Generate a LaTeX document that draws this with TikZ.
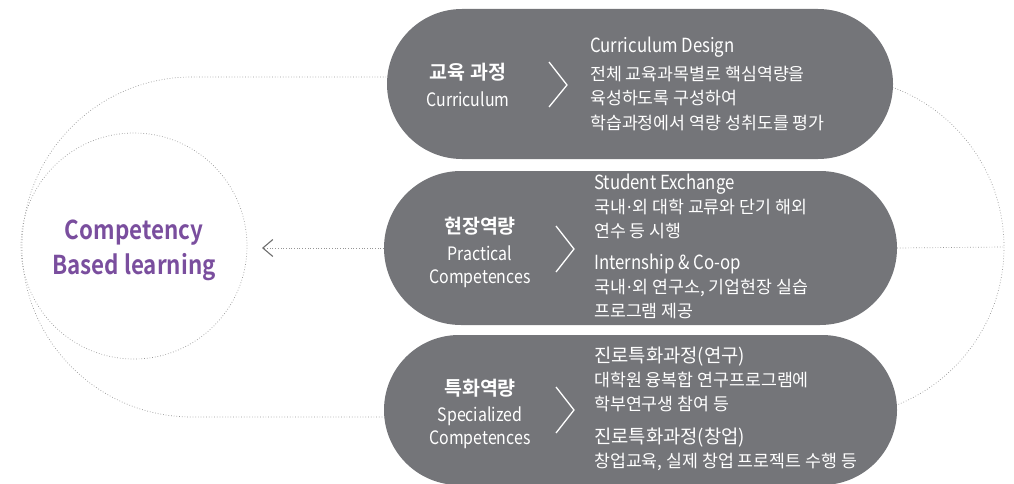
\documentclass[tikz,border=0pt]{standalone}
\usepackage{fontspec}
\setmainfont{Noto Sans CJK KR}[BoldFont={Noto Sans CJK KR Bold}]
\newfontfamily\cond{Noto Sans CJK KR}[FakeStretch=0.86, BoldFont={Noto Sans CJK KR Bold}]
\newfontfamily\dvsans{DejaVu Sans}
\usetikzlibrary{shapes.misc,arrows.meta}
\definecolor{pillgray}{RGB}{116,117,121}
\definecolor{cbpurple}{RGB}{122,78,158}
\definecolor{dotgray}{RGB}{150,150,150}
\definecolor{tipgray}{RGB}{110,110,110}
\newcommand{\lat}[1]{{\cond\fontsize{19.5}{24}\selectfont #1}}
\newcommand{\kh}[1]{{\fontsize{18.8}{24}\selectfont #1}}
\newcommand{\mdot}{{\dvsans\kern0.5pt·\kern0.5pt}}
\tikzset{
  dotline/.style={draw=dotgray, dotted, line width=0.7pt},
  pill/.style={rounded rectangle, fill=pillgray, inner sep=0pt},
  head/.style={text=white, font=\bfseries\fontsize{19.5}{22}\selectfont, inner sep=0pt},
  sub/.style={text=white, font=\cond\fontsize{18.5}{23}\selectfont, align=center, inner sep=0pt},
  body/.style={text=white, font=\fontsize{17.3}{24}\selectfont, align=left, anchor=base west, inner sep=0pt},
  chev/.style={draw=white, line width=1.3pt}
}
\begin{document}
\begin{tikzpicture}[x=1pt,y=-1pt]
\useasboundingbox (0,0) rectangle (1014,484);
% outer dotted stadium and circle
\node[rounded rectangle, dotline, minimum width=982pt, minimum height=340pt, inner sep=0pt] (outer) at (513,247) {};
\node[circle, dotline, minimum size=226pt, inner sep=0pt] (circ) at (134,246) {};
\node[text=cbpurple, font=\cond\bfseries\fontsize{26}{35}\selectfont, align=center] (cbl) at (134,250) {Competency\\Based learning};
% pills
\node[pill, minimum width=506pt, minimum height=150pt] (p1) at (640,84) {};
\node[pill, minimum width=513pt, minimum height=154pt] (p2) at (640.5,248) {};
\node[pill, minimum width=513pt, minimum height=150pt] (p3) at (640.5,410) {};
% connectors
\coordinate (tipL) at (262,248);
\draw[dotline, -{Straight Barb[length=10pt, width=17pt, line width=1.1pt, color=tipgray]}] (p2.west) -- (tipL);
\draw[dotline] (p2.east) -- (outer.east);
% pill 1
\node[head] (h1) at (468,72) {교육 과정};
\node[sub] (e1) at (468,99) {Curriculum};
\draw[chev] (549,62) -- (567,85) -- (549,107);
\node[body] (t1) at (590,129) {\lat{Curriculum Design}\\[5pt]전체 교육과목별로 핵심역량을\\육성하도록 구성하여\\학습과정에서 역량 성취도를 평가};
% pill 2
\node[head] (h2) at (480,226) {현장역량};
\node[sub] (e2) at (480,267) {Practical\\Competences};
\draw[chev] (556,226) -- (574,249) -- (556,272);
\node[body] (t2) at (594,317) {\lat{Student Exchange}\\국내\mdot 외 대학 교류와 단기 해외\\연수 등 시행\\[8pt]\lat{Internship \& Co-op}\\국내\mdot 외 연구소, 기업현장 실습\\프로그램 제공};
% pill 3
\node[head] (h3) at (480,388) {특화역량};
\node[sub] (e3) at (480,428) {Specialized\\Competences};
\draw[chev] (556,387) -- (574,410) -- (556,433);
\node[body] (t3) at (594,467) {\kh{진로특화과정(연구)}\\대학원 융복합 연구프로그램에\\학부연구생 참여 등\\[9pt]\kh{진로특화과정(창업)}\\창업교육, 실제 창업 프로젝트 수행 등};
\end{tikzpicture}
\end{document}
